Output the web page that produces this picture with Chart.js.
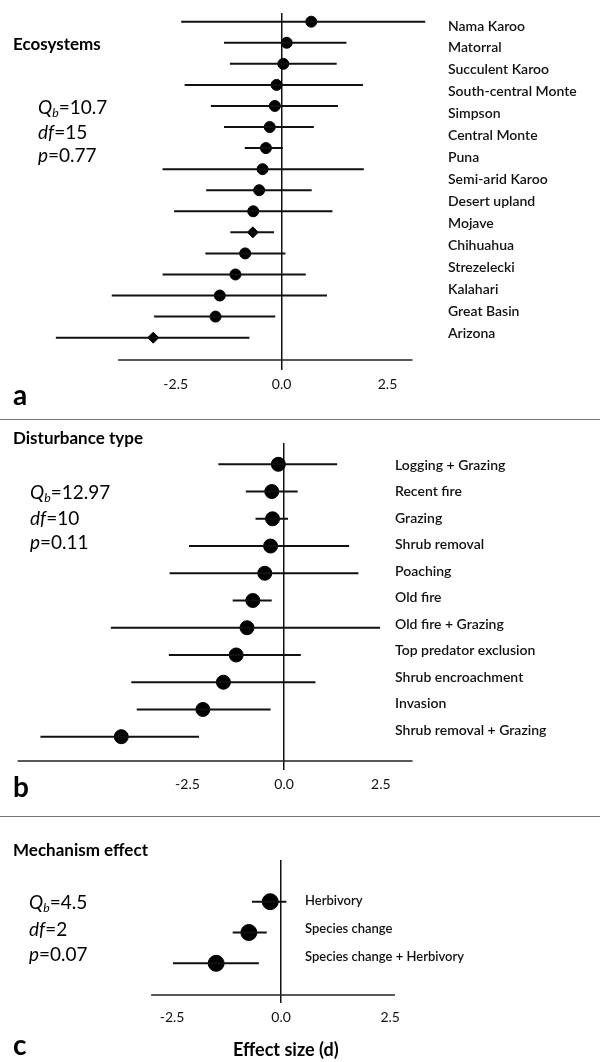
<!DOCTYPE html>
<html>
<head>
<meta charset="utf-8">
<script src="https://cdn.jsdelivr.net/npm/chart.js@4.4.1/dist/chart.umd.min.js"></script>
<style>
    html, body { margin: 0; padding: 0; background: #fff; }
    body { width: 600px; height: 1062px; position: relative; overflow: hidden; font-family: Lato, "Open Sans", sans-serif; color: #000; }
    canvas { position: absolute; left: 0; }
    .txt { position: absolute; white-space: nowrap; line-height: 1; transform: translateY(-50%); }
    .title { font-weight: 700; font-size: 17px; }
    .stat { font-size: 19px; }
    .stat sub { font-size: 0.65em; vertical-align: -0.25em; }
    .letter { font-weight: 700; font-size: 28px; }
    .xtitle { font-weight: 700; font-size: 18px; }
    .rule { position: absolute; left: 0; width: 600px; height: 0; border-top: 1px solid #777; }
</style>
</head>
<body>

<canvas id="chartA" width="600" height="400" style="top:0"></canvas>
<canvas id="chartB" width="600" height="380" style="top:420px"></canvas>
<canvas id="chartC" width="600" height="232" style="top:830px"></canvas>

<div class="txt title" style="left:13px;top:43px">Ecosystems</div>
<div class="txt stat" style="left:38px;top:108px"><i>Q</i><sub><i>b</i></sub>=10.7</div>
<div class="txt stat" style="left:38px;top:131px"><i>df</i>=15</div>
<div class="txt stat" style="left:38px;top:154px"><i>p</i>=0.77</div>
<div class="txt letter" style="left:13px;top:394px">a</div>
<div class="rule" style="top:419px"></div>

<div class="txt title" style="left:13px;top:437px">Disturbance type</div>
<div class="txt stat" style="left:30px;top:493px"><i>Q</i><sub><i>b</i></sub>=12.97</div>
<div class="txt stat" style="left:30px;top:517px"><i>df</i>=10</div>
<div class="txt stat" style="left:30px;top:541px"><i>p</i>=0.11</div>
<div class="txt letter" style="left:13px;top:786px">b</div>
<div class="rule" style="top:816px"></div>

<div class="txt title" style="left:13px;top:849px">Mechanism effect</div>
<div class="txt stat" style="left:29px;top:903px"><i>Q</i><sub><i>b</i></sub>=4.5</div>
<div class="txt stat" style="left:29px;top:928px"><i>df</i>=2</div>
<div class="txt stat" style="left:29px;top:953px"><i>p</i>=0.07</div>
<div class="txt letter" style="left:13px;top:1044px">c</div>
<div class="txt xtitle" style="left:233px;top:1049px">Effect size (d)</div>

<script>
// Effect size ticks shared by all panels
const tickVals = [-2.5, 0, 2.5];

// a) Ecosystems
const ecoLabels = ['Nama Karoo', 'Matorral', 'Succulent Karoo', 'South-central Monte', 'Simpson',
    'Central Monte', 'Puna', 'Semi-arid Karoo', 'Desert upland', 'Mojave', 'Chihuahua',
    'Strezelecki', 'Kalahari', 'Great Basin', 'Arizona'];
const ecoMean = [0.70, 0.12, 0.04, -0.12, -0.16, -0.28, -0.37, -0.45, -0.53, -0.67, -0.68, -0.86, -1.09, -1.46, -1.56, -3.03];
const ecoLow  = [-2.37, -1.36, -1.22, -2.29, -1.67, -1.36, -0.87, -2.81, -1.78, -2.54, -1.21, -1.80, -2.81, -4.01, -3.01, -5.33];
const ecoHigh = [3.39, 1.53, 1.30, 1.92, 1.33, 0.76, 0.03, 1.94, 0.71, 1.20, -0.18, 0.09, 0.57, 1.07, -0.15, -0.76];
const ecoAxis = [-3.86, 3.09];

// b) Disturbance type
const distLabels = ['Logging + Grazing', 'Recent fire', 'Grazing', 'Shrub removal', 'Poaching', 'Old fire',
    'Old fire + Grazing', 'Top predator exclusion', 'Shrub encroachment', 'Invasion', 'Shrub removal + Grazing'];
const distMean = [-0.15, -0.32, -0.30, -0.35, -0.50, -0.81, -0.96, -1.24, -1.57, -2.10, -4.21];
const distLow  = [-1.70, -0.99, -0.74, -2.46, -2.96, -1.33, -4.48, -2.98, -3.95, -3.81, -6.30];
const distHigh = [1.37, 0.35, 0.10, 1.68, 1.92, -0.32, 2.48, 0.43, 0.81, -0.35, -2.20];
const distAxis = [-6.89, 3.32];

// c) Mechanism effect
const mechLabels = ['Herbivory', 'Species change', 'Species change + Herbivory'];
const mechMean = [-0.25, -0.74, -1.49];
const mechLow  = [-0.67, -1.11, -2.48];
const mechHigh = [0.12, -0.33, -0.51];
const mechAxis = [-2.98, 2.61];

// whiskers as one broken line: lo -> hi, then a gap
function whiskerData(lo, hi) {
    const pts = [];
    lo.forEach((v, i) => {
        pts.push({ x: v, y: i }, { x: hi[i], y: i }, { x: hi[i], y: null });
    });
    return pts;
}

// axes should not push the plot area around
function noPadding(ax) {
    ax.paddingTop = 0;
    ax.paddingBottom = 0;
    ax.paddingLeft = 0;
    ax.paddingRight = 0;
}

function forestChart(id, o) {
    return new Chart(document.getElementById(id), {
        type: 'line',
        data: {
            datasets: [{
                data: whiskerData(o.low, o.high),
                borderColor: '#111',
                borderWidth: 2,
                pointRadius: 0,
                spanGaps: false,
                clip: false
            }, {
                // horizontal axis line, drawn at the bottom row
                data: [{ x: o.axis[0], y: o.yRange[1] }, { x: o.axis[1], y: o.yRange[1] }],
                borderColor: '#222',
                borderWidth: 1.5,
                pointRadius: 0,
                clip: false
            }, {
                type: 'scatter',
                data: o.mean.map((v, i) => ({ x: v, y: i })),
                backgroundColor: '#000',
                borderColor: '#000',
                pointRadius: o.radius,
                pointStyle: ctx => (o.diamonds || []).includes(ctx.dataIndex) ? 'rectRot' : 'circle',
                clip: false
            }]
        },
        options: {
            responsive: false,
            animation: false,
            events: [],
            layout: { padding: { top: o.top, left: 0, right: 0, bottom: 0 } },
            plugins: { legend: { display: false }, tooltip: { enabled: false } },
            scales: {
                x: {
                    type: 'linear',
                    min: o.xRange[0],
                    max: o.xRange[1],
                    afterBuildTicks: ax => { ax.ticks = tickVals.map(v => ({ value: v })); },
                    afterFit: ax => { ax.height = o.xHeight; noPadding(ax); },
                    grid: {
                        color: c => (c.tick && c.tick.value === 0) ? '#111' : 'rgba(0,0,0,0)',
                        lineWidth: 1.5,
                        drawTicks: true,
                        tickLength: o.tickLen
                    },
                    border: { display: false },
                    ticks: {
                        callback: v => v.toFixed(1),
                        font: { family: 'Lato', size: 14 },
                        color: '#111',
                        padding: 6,
                        autoSkip: false,
                        maxRotation: 0
                    }
                },
                y: {
                    type: 'linear',
                    reverse: true,
                    min: o.yRange[0],
                    max: o.yRange[1],
                    display: false
                },
                yl: {
                    type: 'linear',
                    position: 'right',
                    reverse: true,
                    min: o.labRange[0],
                    max: o.labRange[1],
                    afterBuildTicks: ax => { ax.ticks = o.labels.map((_, i) => ({ value: i })); },
                    afterFit: ax => { ax.width = o.labWidth; noPadding(ax); },
                    grid: { display: false, drawTicks: false },
                    border: { display: false },
                    ticks: {
                        callback: v => o.labels[v],
                        font: { family: 'Lato', size: o.labSize, weight: '600' },
                        color: '#111',
                        padding: o.labPad,
                        autoSkip: false
                    }
                }
            }
        }
    });
}

forestChart('chartA', {
    labels: ecoLabels, mean: ecoMean, low: ecoLow, high: ecoHigh, axis: ecoAxis,
    diamonds: [10, 15], radius: 5.5,
    top: 13, xHeight: 40, tickLen: 10,
    xRange: [-6.495, 3.621], yRange: [-0.413, 16.06], labRange: [-0.592, 15.217],
    labWidth: 165, labPad: 13, labSize: 14
});

forestChart('chartB', {
    labels: distLabels, mean: distMean, low: distLow, high: distHigh, axis: distAxis,
    radius: 7,
    top: 23, xHeight: 39, tickLen: 9,
    xRange: [-7.139, 2.608], yRange: [-0.782, 10.892], labRange: [-0.851, 11.172],
    labWidth: 215, labPad: 10, labSize: 14
});

forestChart('chartC', {
    labels: mechLabels, mean: mechMean, low: mechLow, high: mechHigh, axis: mechAxis,
    radius: 8,
    top: 30, xHeight: 67, tickLen: 8,
    xRange: [-6.238, 0.318], yRange: [-1.354, 3.029], labRange: [-1.472, 3.375],
    labWidth: 305, labPad: 10, labSize: 13
});
</script>
</body>
</html>
